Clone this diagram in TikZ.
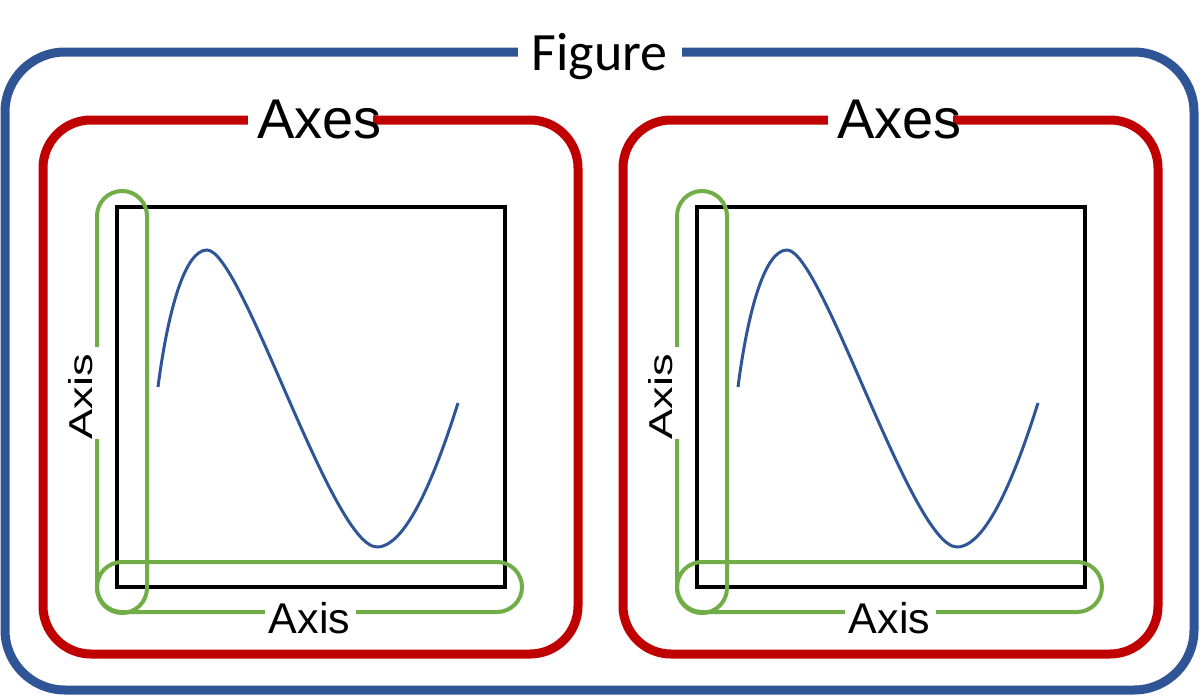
\documentclass[tikz,border=0pt]{standalone}
\usepackage{fontspec}
\setmainfont{Liberation Sans}
\newfontfamily\figfont{Carlito}
\definecolor{figblue}{HTML}{2F5597}
\definecolor{axred}{HTML}{C00000}
\definecolor{axgreen}{HTML}{70AD47}
\tikzset{
  figbox/.style={draw=figblue, line width=9pt, rounded corners=60pt},
  axesbox/.style={draw=axred, line width=9pt, rounded corners=48pt},
  plotbox/.style={draw=black, line width=4pt},
  axispill/.style={draw=axgreen, line width=4pt, rounded corners=25pt},
  curveline/.style={draw=figblue, line width=3pt},
  gap/.style={fill=white},
  lbl/.style={inner sep=0pt, anchor=base},
}
\begin{document}
\begin{tikzpicture}[x=1pt,y=-1pt]
\useasboundingbox (0,0) rectangle (1200,696);
% Figure frame
\draw[figbox] (5,52) rectangle (1194,690);
\fill[gap] (518,38) rectangle (682,66);
\node[lbl, font=\figfont\fontsize{54}{60}\selectfont] (figure) at (599.5,70) {Figure};
% panels
\foreach \dx in {0,580}{
\begin{scope}[xshift=\dx]
  \draw[axesbox] (43,120) rectangle (578,654);
  \fill[gap] (248,105) rectangle (373,135);
  \node[lbl, font=\fontsize{56}{60}\selectfont] (axes-\dx) at (319.5,138) {Axes};
  \draw[plotbox] (117,207) rectangle (505,587);
  \draw[curveline] (158,387) .. controls (168,310) and (185,250) .. (207,250)
        .. controls (242,250) and (332,547) .. (377,547)
        .. controls (409,547) and (440,460) .. (458,403);
  \draw[axispill] (97,191) rectangle (147,613);
  \draw[axispill] (97,562) rectangle (522,612);
  \fill[gap] (60,347) rectangle (102,439);
  \node[inner sep=0pt, rotate=90, font=\fontsize{43}{48}\selectfont] (yaxis-\dx) at (81,397) {\scalebox{1.05}[0.77]{Axis}};
  \fill[gap] (265,598) rectangle (356,626);
  \node[lbl, font=\fontsize{43}{48}\selectfont] (xaxis-\dx) at (309.5,633) {Axis};
\end{scope}
}
\end{tikzpicture}
\end{document}
